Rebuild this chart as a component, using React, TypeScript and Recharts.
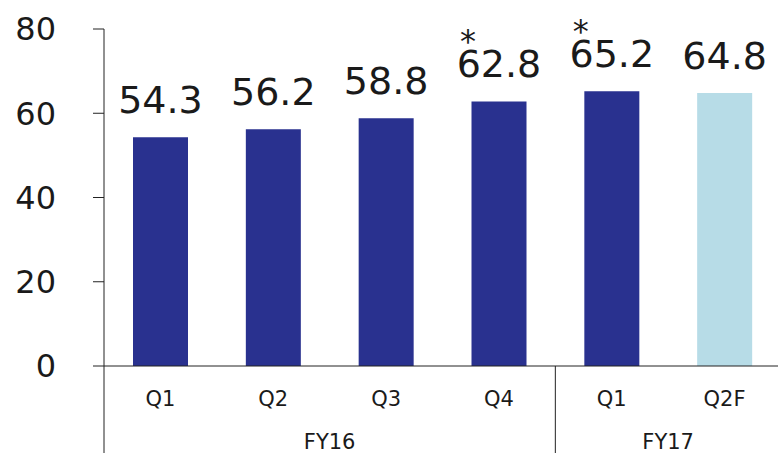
import React from 'react';
import { BarChart, Bar, XAxis, YAxis, Cell, LabelList } from 'recharts';

const quarters = ['Q1', 'Q2', 'Q3', 'Q4', 'Q1', 'Q2F'];
const fiscalYears = ['FY16', 'FY16', 'FY16', 'FY16', 'FY17', 'FY17'];
const values = [54.3, 56.2, 58.8, 62.8, 65.2, 64.8];
const notes = ['', '', '', '*', '*', ''];
const forecast = [false, false, false, false, false, true];
const yTicks = [0, 20, 40, 60, 80];

const data = quarters.map((q, i) => ({
  id: `${fiscalYears[i]}-${q}`,
  q,
  fy: fiscalYears[i],
  value: values[i],
}));

const FONT = '"DejaVu Sans", Verdana, sans-serif';
const TEXT = '#1a1a1a';
const LINE = '#222';
const NAVY = '#29318F';
const LIGHT = '#B7DCE7';

const W = 781;
const H = 453;
const MARGIN = { top: 29, right: 0, bottom: 0, left: 0 };
const Y_W = 104;
const XA1_H = 50;
const XA2_H = 37;
const BAND = (W - Y_W - MARGIN.left - MARGIN.right) / data.length;
const PLOT_BOTTOM = H - MARGIN.bottom - XA1_H - XA2_H;

const idxOf = (id: string) => data.findIndex((d) => d.id === id);

const GroupTick = (props: any) => {
  const { x, payload } = props;
  const i = typeof payload.index === 'number' ? payload.index : idxOf(payload.value);
  const fy = fiscalYears[i];
  if (i > 0 && fiscalYears[i - 1] === fy) return <g />;
  let n = 0;
  while (i + n < fiscalYears.length && fiscalYears[i + n] === fy) n++;
  const left = Number(x) - BAND / 2;
  const cx = left + (n * BAND) / 2;
  return (
    <g>
      <line x1={left} x2={left} y1={PLOT_BOTTOM} y2={H} stroke={LINE} strokeWidth={1} />
      <text x={cx} y={H - 4} textAnchor="middle" fontSize={21} fill={TEXT} fontFamily={FONT}>
        {fy}
      </text>
    </g>
  );
};

const ValueLabel = (props: any) => {
  const { x, y, width, value, index } = props;
  const i = typeof index === 'number' ? index : values.indexOf(Number(value));
  const cx = Number(x) + Number(width) / 2;
  const base = Number(y) - 24;
  const note = notes[i];
  return (
    <g>
      <text x={cx} y={base} textAnchor="middle" fontSize={38} fill={TEXT} fontFamily={FONT}>
        {value}
      </text>
      {note ? (
        <text x={cx - 31} y={base - 25} textAnchor="middle" fontSize={32} fill={TEXT} fontFamily={FONT}>
          {note}
        </text>
      ) : null}
    </g>
  );
};

export default function App() {
  return (
    <div
      style={{
        position: 'absolute',
        left: 0,
        top: 0,
        width: 778,
        height: 453,
        overflow: 'hidden',
        background: '#fff',
      }}
    >
      <BarChart width={W} height={H} data={data} margin={MARGIN} barCategoryGap={0}>
        <YAxis
          type="number"
          domain={[0, 80]}
          ticks={yTicks}
          width={Y_W}
          tickSize={11}
          tickMargin={37}
          axisLine={{ stroke: LINE, strokeWidth: 1 }}
          tickLine={{ stroke: LINE, strokeWidth: 1 }}
          tick={{ fontSize: 32, fill: TEXT, fontFamily: FONT }}
          interval={0}
        />
        <XAxis
          dataKey="id"
          xAxisId={0}
          height={XA1_H}
          tickLine={false}
          tickSize={6}
          tickMargin={19}
          axisLine={{ stroke: LINE, strokeWidth: 1 }}
          tick={{ fontSize: 21, fill: TEXT, fontFamily: FONT }}
          tickFormatter={(v: string) => quarters[idxOf(v)]}
          interval={0}
        />
        <XAxis
          dataKey="id"
          xAxisId="fy"
          height={XA2_H}
          tickLine={false}
          axisLine={false}
          tickSize={0}
          tickMargin={0}
          tick={<GroupTick />}
          interval={0}
        />
        <Bar dataKey="value" xAxisId={0} barSize={55} isAnimationActive={false}>
          {data.map((d, i) => (
            <Cell key={d.id} fill={forecast[i] ? LIGHT : NAVY} />
          ))}
          <LabelList dataKey="value" content={<ValueLabel />} />
        </Bar>
      </BarChart>
    </div>
  );
}
